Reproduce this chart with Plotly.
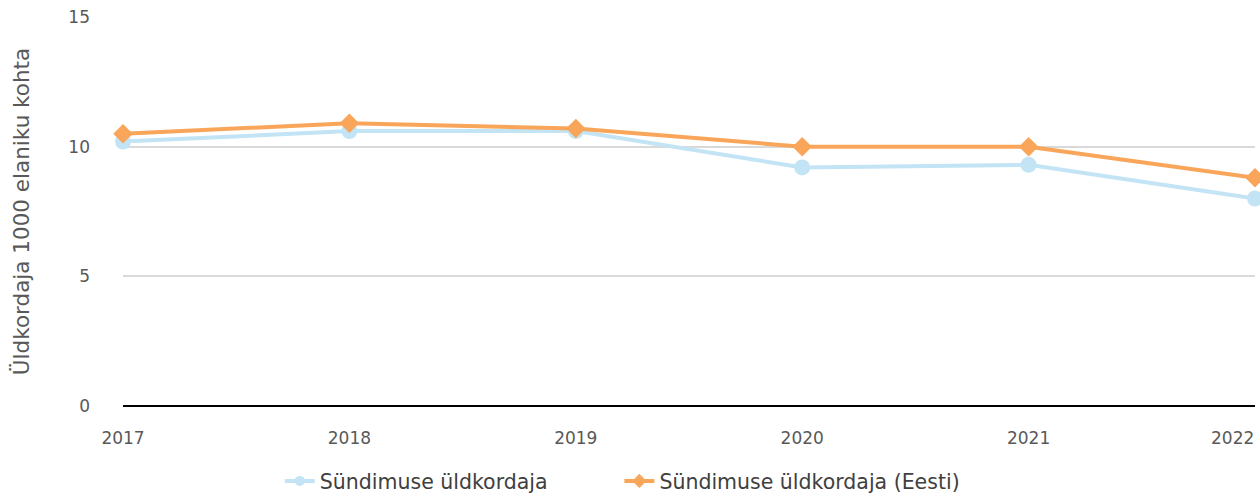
import plotly.graph_objects as go

years = [2017, 2018, 2019, 2020, 2021, 2022]
local_rate = [10.2, 10.6, 10.6, 9.2, 9.3, 8.0]
estonia_rate = [10.5, 10.9, 10.7, 10.0, 10.0, 8.8]
y_ticks = [0, 5, 10, 15]
series_names = ["Sündimuse üldkordaja", "Sündimuse üldkordaja (Eesti)"]

BLUE = "#c2e4f5"
ORANGE = "#f9a65a"
GREY = "#595959"

fig = go.Figure()
fig.add_trace(go.Scatter(
    x=years, y=local_rate, name=series_names[0], mode="lines+markers",
    line=dict(color=BLUE, width=4),
    marker=dict(symbol="circle", size=16, color=BLUE),
    cliponaxis=False, showlegend=False,
))
fig.add_trace(go.Scatter(
    x=years, y=estonia_rate, name=series_names[1], mode="lines+markers",
    line=dict(color=ORANGE, width=4),
    marker=dict(symbol="diamond", size=15, color=ORANGE),
    cliponaxis=False, showlegend=False,
))
# legend entries (small symbols as in the original legend)
fig.add_trace(go.Scatter(
    x=[None], y=[None], name=series_names[0], mode="lines+markers",
    line=dict(color=BLUE, width=4), marker=dict(symbol="circle", size=10, color=BLUE),
    legend="legend",
))
fig.add_trace(go.Scatter(
    x=[None], y=[None], name=series_names[1], mode="lines+markers",
    line=dict(color=ORANGE, width=4), marker=dict(symbol="diamond", size=11, color=ORANGE),
    legend="legend2",
))

legend_font = dict(family="DejaVu Sans", size=20.5, color="#404040")
fig.update_layout(
    width=1260, height=495,
    margin=dict(l=123, r=5, t=17, b=89, autoexpand=False),
    paper_bgcolor="white", plot_bgcolor="white",
    font=dict(family="DejaVu Sans", color=GREY, size=17),
    legend=dict(orientation="h", x=0.1385, xanchor="left", y=-0.193, yanchor="middle",
                font=legend_font, itemwidth=30, bgcolor="rgba(0,0,0,0)"),
    legend2=dict(orientation="h", x=0.4385, xanchor="left", y=-0.193, yanchor="middle",
                 font=legend_font, itemwidth=30, bgcolor="rgba(0,0,0,0)"),
    showlegend=True,
)
# last year label is right-aligned at the plot edge, as in the original
xt = [str(y) for y in years]
xt_shown = xt[:-1] + [""]
fig.update_xaxes(
    range=[years[0], years[-1]], tickvals=years, ticktext=xt_shown,
    showgrid=False, zeroline=False, showline=False, ticks="",
    ticklabelstandoff=20, automargin=False,
    tickfont=dict(size=17, color=GREY),
)
fig.add_annotation(
    x=years[-1], y=0, xref="x", yref="y", text=xt[-1], showarrow=False,
    xanchor="right", yanchor="top", yshift=-20, xshift=1,
    font=dict(size=17, color=GREY),
)
fig.update_yaxes(
    range=[0, 15], tickvals=y_ticks, showgrid=True, gridcolor="#d9d9d9", gridwidth=1.5,
    zeroline=True, zerolinecolor="#000000", zerolinewidth=2,
    ticks="", ticklabelstandoff=32, automargin=False,
    tickfont=dict(size=17, color=GREY),
    title=dict(text="Üldkordaja 1000 elaniku kohta", font=dict(size=21.5, color=GREY), standoff=32),
)

fig.write_html("out.html", config={"displayModeBar": False},
               post_script="document.body.style.margin='0';")
